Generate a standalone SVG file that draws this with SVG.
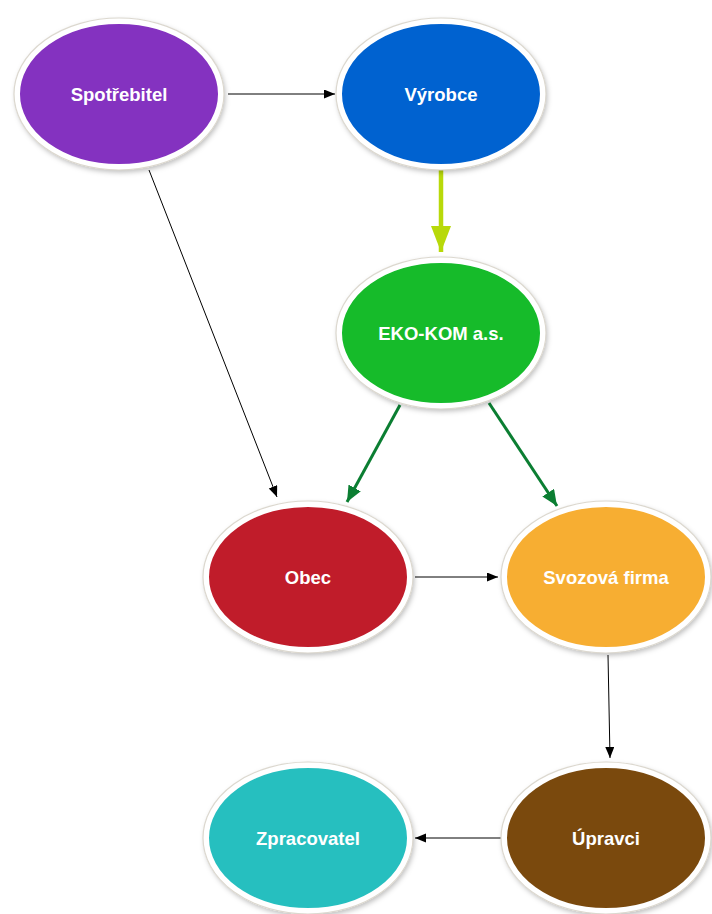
<svg xmlns="http://www.w3.org/2000/svg" width="712" height="914" viewBox="0 0 712 914">
<defs>
<style>
.ring{stroke:#ffffff;stroke-width:6;filter:url(#sh)}
.edge{fill:none;stroke:#dcd8cf;stroke-width:1.2}
.lbl{font-family:"Liberation Sans",Arial,sans-serif;font-weight:bold;font-size:18.5px;fill:#ffffff;text-anchor:middle;dominant-baseline:central}
.blk{fill:none;stroke:#000000;stroke-width:1}
.grn{fill:none;stroke:#0b7e32;stroke-width:3}
.lime{fill:none;stroke:#b8d90a;stroke-width:4.5}
</style>
<filter id="sh" x="-20%" y="-20%" width="140%" height="140%">
<feDropShadow dx="1.5" dy="2.5" stdDeviation="2.5" flood-color="#000" flood-opacity="0.25"/>
</filter>
<marker id="mb" markerUnits="userSpaceOnUse" markerWidth="12" markerHeight="10" refX="11" refY="4.5" orient="auto">
<path d="M0,0 L11,4.5 L0,9 Z" fill="#000"/>
</marker>
<marker id="mg" markerUnits="userSpaceOnUse" markerWidth="18" markerHeight="16" refX="16" refY="7" orient="auto">
<path d="M0,0 L16,7 L0,14 Z" fill="#0b7e32"/>
</marker>
<marker id="ml" markerUnits="userSpaceOnUse" markerWidth="28" markerHeight="22" refX="26" refY="10" orient="auto">
<path d="M0,0 L26,10 L0,20 Z" fill="#b8d90a"/>
</marker>
</defs>
<rect width="712" height="914" fill="#ffffff"/>
<g id="connectors">
<line class="blk" x1="228" y1="94" x2="335" y2="94" marker-end="url(#mb)"/>
<line class="lime" x1="441" y1="170" x2="441" y2="252" marker-end="url(#ml)"/>
<line class="blk" x1="149" y1="170" x2="277" y2="497" marker-end="url(#mb)"/>
<line class="grn" x1="400" y1="405" x2="347" y2="502" marker-end="url(#mg)"/>
<line class="grn" x1="489" y1="403" x2="557" y2="506" marker-end="url(#mg)"/>
<line class="blk" x1="415" y1="577" x2="498" y2="577" marker-end="url(#mb)"/>
<line class="blk" x1="608" y1="655" x2="610" y2="758" marker-end="url(#mb)"/>
<line class="blk" x1="504" y1="838" x2="415" y2="838" marker-end="url(#mb)"/>
</g>
<g id="spotrebitel">
<ellipse class="ring" cx="119" cy="94" rx="102" ry="73" fill="#8430c0"/>
<ellipse class="edge" cx="119" cy="94" rx="105" ry="76"/>
<text class="lbl" x="119" y="94">Spotřebitel</text>
</g>
<g id="vyrobce">
<ellipse class="ring" cx="441" cy="94" rx="102" ry="73" fill="#0062d0"/>
<ellipse class="edge" cx="441" cy="94" rx="105" ry="76"/>
<text class="lbl" x="441" y="94">Výrobce</text>
</g>
<g id="ekokom">
<ellipse class="ring" cx="441" cy="333" rx="102" ry="73" fill="#12bb2a"/>
<ellipse class="edge" cx="441" cy="333" rx="105" ry="76"/>
<text class="lbl" x="441" y="333">EKO-KOM a.s.</text>
</g>
<g id="obec">
<ellipse class="ring" cx="308" cy="577" rx="102" ry="73" fill="#c01c2c"/>
<ellipse class="edge" cx="308" cy="577" rx="105" ry="76"/>
<text class="lbl" x="308" y="577">Obec</text>
</g>
<g id="svozova">
<ellipse class="ring" cx="606" cy="577" rx="102" ry="73" fill="#f7ae33"/>
<ellipse class="edge" cx="606" cy="577" rx="105" ry="76"/>
<text class="lbl" x="606" y="577">Svozová firma</text>
</g>
<g id="zpracovatel">
<ellipse class="ring" cx="308" cy="838" rx="102" ry="73" fill="#28bfbf"/>
<ellipse class="edge" cx="308" cy="838" rx="105" ry="76"/>
<text class="lbl" x="308" y="838">Zpracovatel</text>
</g>
<g id="upravci">
<ellipse class="ring" cx="606" cy="838" rx="102" ry="73" fill="#7a4a10"/>
<ellipse class="edge" cx="606" cy="838" rx="105" ry="76"/>
<text class="lbl" x="606" y="838">Úpravci</text>
</g>
</svg>
